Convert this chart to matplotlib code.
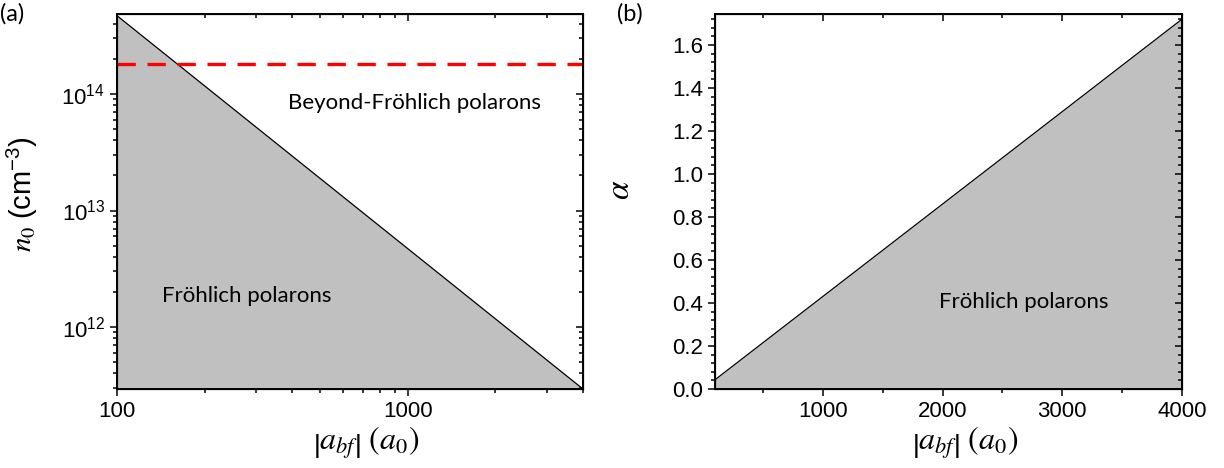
import numpy as np
import matplotlib.pyplot as plt
from matplotlib.ticker import LogLocator, NullFormatter, MultipleLocator

plt.rcParams['font.family'] = ['Liberation Sans', 'DejaVu Sans']
plt.rcParams['mathtext.fontset'] = 'stix'

# boundary between regimes
a_bf = [100, 4000]
n0_crit = [4.7e14, 2.94e11]     # critical density, (a)
alpha_crit = [0.043, 1.72]      # coupling, (b)
n0_line = 1.81e14               # red dashed level

grey = '#c0c0c0'
txtfont = ['Lato', 'DejaVu Sans']
xlab = r'$\left|a_{bf}\right|\ (a_0)$'

fig = plt.figure(figsize=(12.24, 4.68), dpi=100)
ax1 = fig.add_axes([117/1224, 79/468, 466/1224, 375/468])
ax2 = fig.add_axes([715/1224, 79/468, 467/1224, 375/468])

# (a)
ax1.fill_between(a_bf, n0_crit, 1e10, color=grey, lw=0)
ax1.plot(a_bf, n0_crit, color='black', lw=0.9)
ax1.axhline(n0_line, color='red', lw=2.4, ls=(0, (5.5, 3.5)))
ax1.set_xscale('log')
ax1.set_yscale('log')
ax1.set_xlim(100, 4000)
ax1.set_ylim(2.94e11, 4.86e14)
ax1.set_xticks([100, 1000])
ax1.set_xticklabels(['100', '1000'])
ax1.xaxis.set_minor_locator(LogLocator(subs=np.arange(2, 10)))
ax1.xaxis.set_minor_formatter(NullFormatter())
ax1.set_yticks([1e12, 1e13, 1e14])
ax1.set_yticklabels([r'$\mathregular{10^{12}}$', r'$\mathregular{10^{13}}$', r'$\mathregular{10^{14}}$'])
ax1.yaxis.set_minor_locator(LogLocator(subs=np.arange(2, 10)))
ax1.yaxis.set_minor_formatter(NullFormatter())
ax1.set_xlabel(xlab, fontsize=23)
ax1.set_ylabel(r'$n_0\ \mathregular{(cm^{-3})}$', fontsize=21)
ax1.xaxis.set_label_coords(0.535, -0.095)
ax1.yaxis.set_label_coords(-0.165, 0.52)
ax1.text(1057, 8.4e13, 'Beyond-Fröhlich polarons', fontsize=16, ha='center', va='center', family=txtfont)
ax1.text(280, 1.85e12, 'Fröhlich polarons', fontsize=16, ha='center', va='center', family=txtfont)
ax1.text(-0.25, 1.0, '(a)', transform=ax1.transAxes, fontsize=17, va='center', family=txtfont)

# (b)
ax2.fill_between(a_bf, alpha_crit, 0, color=grey, lw=0)
ax2.plot(a_bf, alpha_crit, color='black', lw=0.9)
ax2.set_xlim(100, 4000)
ax2.set_ylim(0, 1.744)
ax2.set_xticks([1000, 2000, 3000, 4000])
ax2.xaxis.set_minor_locator(MultipleLocator(500))
ax2.yaxis.set_major_locator(MultipleLocator(0.2))
ax2.yaxis.set_minor_locator(MultipleLocator(0.04))
ax2.set_yticklabels([f'{v:.1f}' for v in ax2.get_yticks()])
ax2.set_xlabel(xlab, fontsize=23)
ax2.set_ylabel(r'$\alpha$', fontsize=24)
ax2.xaxis.set_label_coords(0.535, -0.095)
ax2.yaxis.set_label_coords(-0.17, 0.53)
ax2.text(2679, 0.405, 'Fröhlich polarons', fontsize=16, ha='center', va='center', family=txtfont)
ax2.text(-0.21, 1.0, '(b)', transform=ax2.transAxes, fontsize=17, va='center', family=txtfont)

for ax in (ax1, ax2):
    for s in ax.spines.values():
        s.set_linewidth(1.4)
    ax.tick_params(which='both', direction='out', labelsize=16, width=1.1,
                   top=False, right=False)
    ax.tick_params(which='major', length=5)
    ax.tick_params(which='minor', length=3)
    # inward ticks on top/right spines
    tx = ax.twiny()
    tx.set_xscale(ax.get_xscale())
    tx.set_xlim(ax.get_xlim())
    tx.xaxis.set_major_locator(ax.xaxis.get_major_locator())
    tx.xaxis.set_minor_locator(ax.xaxis.get_minor_locator())
    tx.tick_params(which='both', direction='in', labeltop=False, width=1.1)
    tx.tick_params(which='major', length=5)
    tx.tick_params(which='minor', length=3)
    ty = ax.twinx()
    ty.set_yscale(ax.get_yscale())
    ty.set_ylim(ax.get_ylim())
    ty.yaxis.set_major_locator(ax.yaxis.get_major_locator())
    ty.yaxis.set_minor_locator(ax.yaxis.get_minor_locator())
    ty.tick_params(which='both', direction='in', labelright=False, width=1.1)
    ty.tick_params(which='major', length=5)
    ty.tick_params(which='minor', length=3)

fig.savefig('out.png', dpi=100)
